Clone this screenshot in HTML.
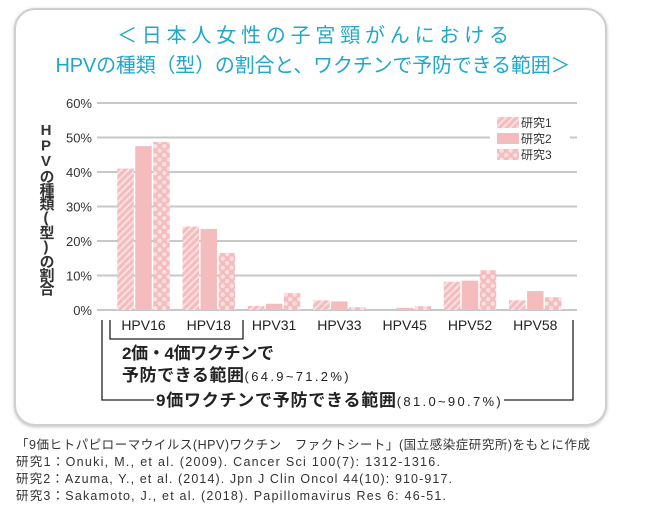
<!DOCTYPE html>
<html><head><meta charset="utf-8">
<style>
body{margin:0;background:#fff;width:650px;height:520px;overflow:hidden;font-family:"Liberation Sans","Noto Sans CJK JP",sans-serif;}
svg text{font-family:"Liberation Sans","Noto Sans CJK JP",sans-serif;}
.vt{writing-mode:vertical-rl;text-orientation:upright;}
</style></head>
<body>
<svg id="chart" width="650" height="520" viewBox="0 0 650 520">
<defs>
<pattern id="stripe" width="5" height="5" patternUnits="userSpaceOnUse" patternTransform="rotate(45)">
<rect width="5" height="5" fill="#f5bcbe"/><rect width="2" height="5" fill="#fbe0e1"/>
</pattern>
<pattern id="dots" width="9" height="9" patternUnits="userSpaceOnUse">
<rect width="9" height="9" fill="#f5bcbe"/><circle cx="2.2" cy="2.2" r="2.2" fill="#fbe0e1"/><circle cx="6.7" cy="6.7" r="2.2" fill="#fbe0e1"/>
</pattern>
<filter id="sh" x="-5%" y="-5%" width="110%" height="110%"><feDropShadow dx="0" dy="1" stdDeviation="1.5" flood-color="#999" flood-opacity="0.6"/></filter>
</defs>
<rect x="15" y="9" width="591" height="416" rx="20" fill="#fff" stroke="#cfcfcf" stroke-width="2" filter="url(#sh)"/>
<text x="313" y="42" text-anchor="middle" font-size="20" fill="#1fa8c9" textLength="392">＜日本人女性の子宮頸がんにおける</text>
<text x="313" y="72" text-anchor="middle" font-size="20" fill="#1fa8c9" textLength="515">HPVの種類（型）の割合と、ワクチンで予防できる範囲＞</text>
<text x="46" y="122" font-size="15" font-weight="bold" fill="#333" class="vt" textLength="174">HPVの種類(型)の割合</text>
<g id="grid"></g>
<g id="bars"></g>
<g id="xlabels"></g>
<g>
<rect x="490" y="112" width="80" height="52" fill="#fff"/>
<rect x="497" y="117" width="22" height="11" fill="url(#stripe)"/>
<text x="521" y="127" font-size="12" fill="#333">研究1</text>
<rect x="497" y="133" width="22" height="11" fill="#f5bcbe"/>
<text x="521" y="143" font-size="12" fill="#333">研究2</text>
<rect x="497" y="149" width="22" height="11" fill="url(#dots)"/>
<text x="521" y="159" font-size="12" fill="#333">研究3</text>
</g>
<g stroke="#222" stroke-width="1.3" fill="none">
<polyline points="110,320 110,339 243,339 243,320"/>
<polyline points="154,400 102,400 102,320"/>
<polyline points="504,400 573,400 573,320"/>
</g>
<text x="122" y="359" font-size="17" font-weight="bold" fill="#222" textLength="152">2価・4価ワクチンで</text>
<text x="122" y="381" font-size="17" font-weight="bold" fill="#222"><tspan textLength="122">予防できる範囲</tspan><tspan font-size="13" font-weight="normal" textLength="104">(64.9~71.2%)</tspan></text>
<text x="156" y="406" font-size="17" font-weight="bold" fill="#222"><tspan textLength="240">9価ワクチンで予防できる範囲</tspan><tspan font-size="13" font-weight="normal" textLength="104">(81.0~90.7%)</tspan></text>
<g font-size="12.5" fill="#333">
<text x="16" y="449" textLength="574">「9価ヒトパピローマウイルス(HPV)ワクチン　ファクトシート」(国立感染症研究所)をもとに作成</text>
<text x="16" y="466" textLength="424">研究1：Onuki, M., et al. (2009). Cancer Sci 100(7): 1312-1316.</text>
<text x="16" y="483" textLength="436">研究2：Azuma, Y., et al. (2014).  Jpn J Clin Oncol 44(10): 910-917.</text>
<text x="16" y="500" textLength="430">研究3：Sakamoto, J., et al. (2018). Papillomavirus Res 6: 46-51.</text>
</g>
</svg>
<script>
const categories = ["HPV16","HPV18","HPV31","HPV33","HPV45","HPV52","HPV58"];
const study1 = [41.0, 24.2, 1.2, 2.8, 0.0, 8.2, 2.8];
const study2 = [47.5, 23.5, 1.8, 2.5, 0.6, 8.5, 5.5];
const study3 = [48.7, 16.5, 4.9, 0.8, 1.1, 11.5, 3.7];
const yTicks = [0,10,20,30,40,50,60];
const yTickLabels = ["0%","10%","20%","30%","40%","50%","60%"];

const NS="http://www.w3.org/2000/svg";
const y0=310, yTop=103, yMax=60;
const yScale=v=>y0-(v/yMax)*(y0-yTop);
const groupStart=143.5, groupStep=65.3;
const xCenter=i=>groupStart+i*groupStep;
const barW=16.5, barGap=1.5;
function mk(tag,attrs,parent){const e=document.createElementNS(NS,tag);for(const k in attrs)e.setAttribute(k,attrs[k]);parent.appendChild(e);return e;}
const grid=document.getElementById('grid');
yTicks.forEach((t,i)=>{
  const ln=mk('line',{x1:97,x2:577,y1:yScale(t),y2:yScale(t),stroke:'#c6c9c9','stroke-width':2},grid);
  
  
  const tx=mk('text',{x:92,y:yScale(t)+5,'text-anchor':'end','font-size':13,fill:'#333'},grid);
  tx.textContent=yTickLabels[i];
  
  
});
const bars=document.getElementById('bars');
const series=[study1,study2,study3];
const fills=['url(#stripe)','#f5bcbe','url(#dots)'];
categories.forEach((c,i)=>{
  series.forEach((s,j)=>{
    const v=s[i]; if(v<=0) return;
    const x=xCenter(i)+(j-1)*(barW+barGap)-barW/2;
    const r=mk('rect',{x:x,y:yScale(v),width:barW,height:y0-yScale(v),fill:fills[j]},bars);
    
    
  });
});
const xl=document.getElementById('xlabels');
categories.forEach((c,i)=>{
  const t=mk('text',{x:xCenter(i),y:330,'text-anchor':'middle','font-size':14,fill:'#222'},xl);
  t.textContent=c;
  
  
});
</script>
</body></html>
